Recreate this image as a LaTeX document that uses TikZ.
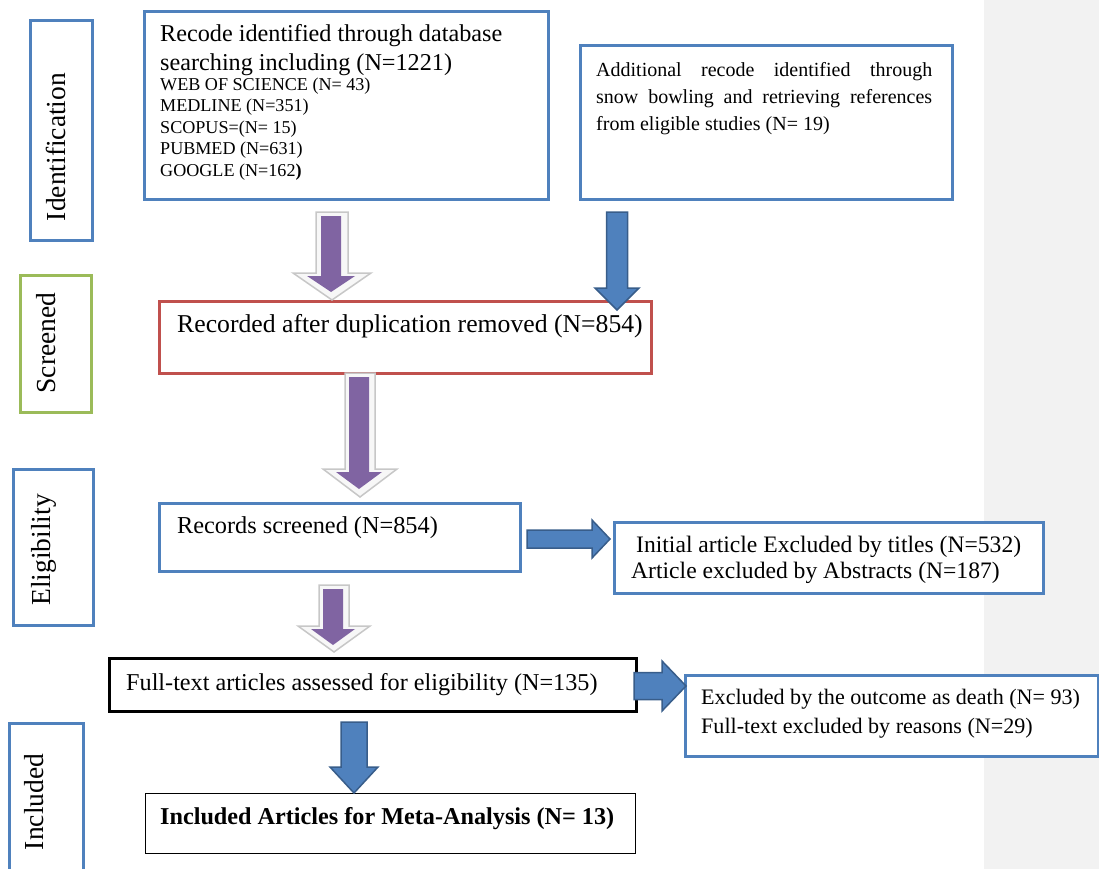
\documentclass[tikz,border=0pt]{standalone}
\usepackage{fontspec}
\setmainfont{Liberation Serif}
\usepackage{tikz}
\usetikzlibrary{calc}
\definecolor{boxblue}{RGB}{79,129,189}
\definecolor{boxred}{RGB}{192,80,77}
\definecolor{boxgreen}{RGB}{155,187,89}
\definecolor{arrblueline}{RGB}{56,93,138}
\definecolor{arrpurple}{RGB}{128,100,162}
\definecolor{panelgray}{RGB}{242,242,242}

% block arrow pointing down: style, top, tip, shaft half width, head half width, head length
\newcommand{\downblock}[6]{%
  \path[#1] ($(#2)+(-#4,0)$) -- ($(#2)+(#4,0)$) -- ($(#3)+(#4,-#6)$) -- ($(#3)+(#5,-#6)$)
    -- (#3) -- ($(#3)+(-#5,-#6)$) -- ($(#3)+(-#4,-#6)$) -- cycle;}
% block arrow pointing right: style, tail, tip, shaft half width, head half width, head length
\newcommand{\rightblock}[6]{%
  \path[#1] ($(#2)+(0,-#4)$) -- ($(#3)+(-#6,-#4)$) -- ($(#3)+(-#6,-#5)$) -- (#3)
    -- ($(#3)+(-#6,#5)$) -- ($(#3)+(-#6,#4)$) -- ($(#2)+(0,#4)$) -- cycle;}

\begin{document}
\begin{tikzpicture}[x=1pt,y=1pt,yscale=-1,xscale=1,
  flowbox/.style={draw=boxblue,line width=3,fill=white,minimum width=#1,anchor=north west,inner sep=0},
  blockblue/.style={fill=boxblue,draw=arrblueline,line width=1.5,line join=miter},
  ghost/.style={fill=black!3,draw=black!22,line width=1.5},
  purplecore/.style={fill=arrpurple},
  txt/.style={inner sep=0,align=left},
  stage/.style={inner sep=0,rotate=90,anchor=base,font=\fontsize{27.5}{30}\selectfont}]
\useasboundingbox (0,0) rectangle (1099,869);

%Shape: Rectangle (side panel)
\fill [panelgray] (984,0) rectangle (1099,869);

%Stage boxes
\node [flowbox=62,minimum height=220] (idbox) at (29,19) {};
\node [flowbox=71,minimum height=137,draw=boxgreen] (scbox) at (19,274) {};
\node [flowbox=80,minimum height=156] (elbox) at (12,468) {};
\node [flowbox=74,minimum height=170] (inbox) at (8,722) {};

% Text Node
\node [stage] (idlabel) at (65,147) {Identification};
\node [stage] (sclabel) at (55,343) {Screened};
\node [stage] (ellabel) at (50,550) {Eligibility};
\node [stage] (inlabel) at (43,802) {Included};

%Flow boxes
\node [flowbox=404,minimum height=188] (dbbox) at (143,10) {};
\node [flowbox=372,minimum height=154] (snowbox) at (579,44) {};
\node [flowbox=492,minimum height=72,draw=boxred] (dupbox) at (158,300) {};
\node [flowbox=361,minimum height=68] (scrbox) at (158,502) {};
\node [flowbox=429,minimum height=71] (exabsbox) at (613,521) {};
\node [flowbox=527,minimum height=53,draw=black] (ftbox) at (108,657) {};
\node [flowbox=413,minimum height=81] (exdeathbox) at (684,674) {};
\node [flowbox=490,minimum height=60,draw=black,line width=1] (incbox) at (145,793) {};

% Text Node
\node [txt,anchor=north west,font=\fontsize{24.2}{29}\selectfont] (dbtitle) at (160,24.5)
  {Recode identified through database\\searching including (N=1221)};
\node [txt,anchor=north west,font=\fontsize{18.1}{21.5}\selectfont] (dblist) at (160,77.6)
  {WEB OF SCIENCE (N= 43)\\MEDLINE (N=351)\\SCOPUS=(N= 15)\\PUBMED (N=631)\\GOOGLE (N=162\textbf{)}};
\node [inner sep=0,anchor=north west,text width=336,align=justify,font=\fontsize{20}{27}\selectfont] (snowtxt) at (596,62.2)
  {Additional recode identified through\linebreak snow bowling and retrieving references\linebreak from eligible studies (N= 19)};
\node [txt,anchor=base west,font=\fontsize{25.7}{29}\selectfont] (duptxt) at (177,332) {Recorded after duplication removed (N=854)};
\node [txt,anchor=base west,font=\fontsize{24.3}{29}\selectfont] (scrtxt) at (177,533) {Records screened (N=854)};
\node [txt,anchor=north west,font=\fontsize{23.6}{26.5}\selectfont] (exabstxt) at (631,535.8)
  {\hspace*{5pt}Initial article Excluded by titles (N=532)\\Article excluded by Abstracts (N=187)};
\node [txt,anchor=base west,font=\fontsize{24.2}{29}\selectfont] (fttxt) at (126,690) {Full-text articles assessed for eligibility (N=135)};
\node [txt,anchor=north west,font=\fontsize{22.1}{29}\selectfont] (exdeathtxt) at (701,688.8)
  {Excluded by the outcome as death (N= 93)\\Full-text excluded by reasons (N=29)};
\node [txt,anchor=base west,font=\bfseries\fontsize{24.2}{29}\selectfont] (inctxt) at (160,824) {Included Articles for Meta-Analysis (N= 13)};

%Block arrows
\coordinate (p1top) at (332,212); \coordinate (p1tip) at (332,300);
\coordinate (p1in) at (331,216);  \coordinate (p1intip) at (331,292);
\coordinate (b1top) at (617,212); \coordinate (b1tip) at (617,310);
\coordinate (p2top) at (360,373); \coordinate (p2tip) at (360,497);
\coordinate (p2in) at (359,377);  \coordinate (p2intip) at (359,489);
\coordinate (r1tail) at (527,539); \coordinate (r1tip) at (610,539);
\coordinate (p3top) at (334,585); \coordinate (p3tip) at (334,652);
\coordinate (p3in) at (333,589);  \coordinate (p3intip) at (333,645);
\coordinate (r2tail) at (634,686); \coordinate (r2tip) at (686,686);
\coordinate (b2top) at (354,722); \coordinate (b2tip) at (354,793);

\downblock{ghost}{p1top}{p1tip}{16}{39}{27}
\downblock{purplecore}{p1in}{p1intip}{10}{24}{16}
\downblock{blockblue}{b1top}{b1tip}{10.5}{22}{22}
\downblock{ghost}{p2top}{p2tip}{15}{37}{28}
\downblock{purplecore}{p2in}{p2intip}{10}{23}{17}
\rightblock{blockblue}{r1tail}{r1tip}{9}{19}{18}
\downblock{ghost}{p3top}{p3tip}{15}{36}{26}
\downblock{purplecore}{p3in}{p3intip}{10}{22}{16}
\rightblock{blockblue}{r2tail}{r2tip}{13.5}{25}{24}
\downblock{blockblue}{b2top}{b2tip}{13}{24}{26}
\end{tikzpicture}
\end{document}
